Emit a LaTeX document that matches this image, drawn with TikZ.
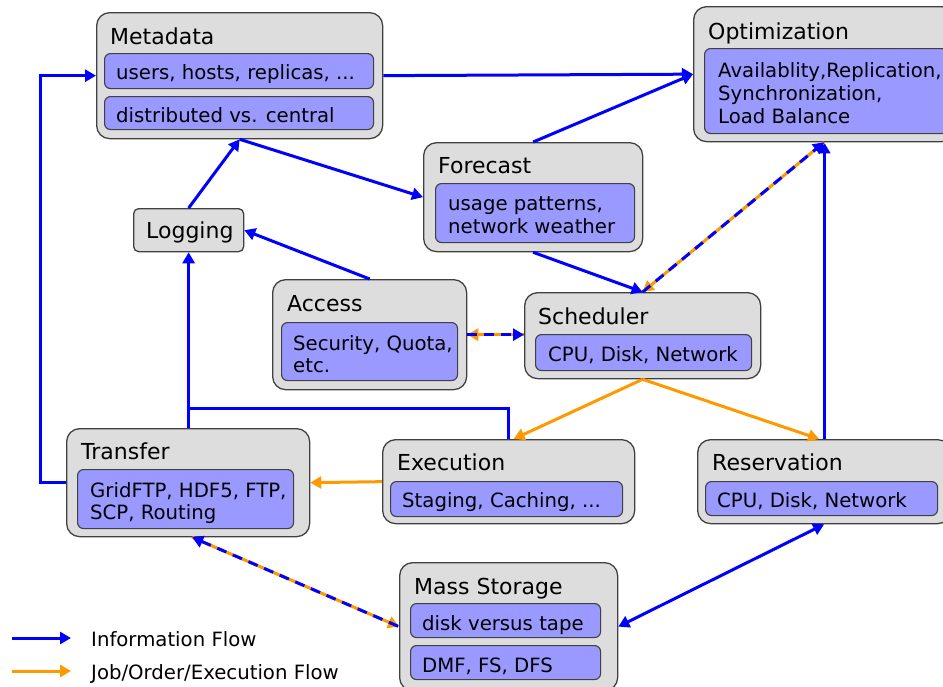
\documentclass[tikz,border=0pt]{standalone}
\usepackage{fontspec}
\setmainfont{DejaVu Sans}
\usetikzlibrary{arrows.meta}

\definecolor{boxgray}{HTML}{DDDDDD}
\definecolor{boxedge}{HTML}{404040}
\definecolor{slotfill}{HTML}{9999FF}
\definecolor{infoblue}{HTML}{0000FF}
\definecolor{joborange}{HTML}{FF9900}

\tikzset{
  outerbox/.style={draw=boxedge, fill=boxgray, line width=1.3pt, rounded corners=13pt,
                   anchor=north west, inner sep=0pt},
  smallbox/.style={outerbox, rounded corners=5pt},
  slotbox/.style={draw=boxedge, fill=slotfill, line width=1.1pt, rounded corners=6pt,
                  anchor=north west, inner sep=0pt},
  title/.style={anchor=base west, inner sep=0pt, font=\fontsize{22}{26}\selectfont},
  entry/.style={anchor=base west, inner sep=0pt, font=\fontsize{19.7}{23}\selectfont},
  info/.style={draw=infoblue, line width=3pt},
  job/.style={draw=joborange, line width=3pt},
  infodash/.style={info, dash pattern=on 10pt off 7pt},
}

\begin{document}
\begin{tikzpicture}[x=1pt, y=-1pt, >={Triangle[length=11pt,width=12pt]}]
\path[use as bounding box, clip] (0,0) rectangle (943,686);

% ---------- Metadata ----------
\node[outerbox, minimum width=286pt, minimum height=126pt] (meta) at (96,12) {};
\node[title] (meta-t) at (110,44) {Metadata};
\node[slotbox, minimum width=269pt, minimum height=35pt] (meta-s1) at (104,53) {};
\node[entry] (meta-l1) at (116,79) {users, hosts, replicas, ...};
\node[slotbox, minimum width=269pt, minimum height=33pt] (meta-s2) at (104,96) {};
\node[entry] (meta-l2) at (116,122) {distributed vs. central};

% ---------- Optimization ----------
\node[outerbox, minimum width=261pt, minimum height=135pt] (opt) at (693,6) {};
\node[title] (opt-t) at (708,39) {Optimization};
\node[slotbox, minimum width=243pt, minimum height=85pt] (opt-s) at (704,48) {};
\node[entry] (opt-l1) at (718,77) {Availablity,Replication,};
\node[entry] (opt-l2) at (718,100) {Synchronization,};
\node[entry] (opt-l3) at (718,123) {Load Balance};

% ---------- Forecast ----------
\node[outerbox, minimum width=219pt, minimum height=109pt] (fore) at (423,142) {};
\node[title] (fore-t) at (438,173) {Forecast};
\node[slotbox, minimum width=199pt, minimum height=59pt] (fore-s) at (435,183) {};
\node[entry] (fore-l1) at (448,210) {usage patterns,};
\node[entry] (fore-l2) at (448,233) {network weather};

% ---------- Logging ----------
\node[smallbox, minimum width=110pt, minimum height=43pt] (log) at (133,208) {};
\node[title] (log-t) at (146,238) {Logging};

% ---------- Access ----------
\node[outerbox, minimum width=194pt, minimum height=110pt] (acc) at (272,279) {};
\node[title] (acc-t) at (287,311) {Access};
\node[slotbox, minimum width=176pt, minimum height=58pt] (acc-s) at (281,322) {};
\node[entry] (acc-l1) at (293,350) {Security, Quota,};
\node[entry] (acc-l2) at (293,372) {etc.};

% ---------- Scheduler ----------
\node[outerbox, minimum width=236pt, minimum height=86pt] (sched) at (524,292) {};
\node[title] (sched-t) at (538,324) {Scheduler};
\node[slotbox, minimum width=216pt, minimum height=36pt] (sched-s) at (535,334) {};
\node[entry] (sched-l1) at (548,361) {CPU, Disk, Network};

% ---------- Transfer ----------
\node[outerbox, minimum width=243pt, minimum height=108pt] (trans) at (66,428) {};
\node[title] (trans-t) at (81,459) {Transfer};
\node[slotbox, minimum width=216pt, minimum height=59pt] (trans-s) at (77,469) {};
\node[entry] (trans-l1) at (90,497) {GridFTP, HDF5, FTP,};
\node[entry] (trans-l2) at (90,519) {SCP, Routing};

% ---------- Execution ----------
\node[outerbox, minimum width=252pt, minimum height=84pt] (exec) at (382,439) {};
\node[title] (exec-t) at (397,470) {Execution};
\node[slotbox, minimum width=232pt, minimum height=35pt] (exec-s) at (390,481) {};
\node[entry] (exec-l1) at (402,507) {Staging, Caching, ...};

% ---------- Reservation ----------
\node[outerbox, minimum width=253pt, minimum height=84pt] (res) at (697,439) {};
\node[title] (res-t) at (712,470) {Reservation};
\node[slotbox, minimum width=232pt, minimum height=34pt] (res-s) at (705,481) {};
\node[entry] (res-l1) at (717,507) {CPU, Disk, Network};

% ---------- Mass Storage ----------
\node[outerbox, minimum width=218pt, minimum height=128pt] (mass) at (399,562) {};
\node[title] (mass-t) at (414,594) {Mass Storage};
\node[slotbox, minimum width=190pt, minimum height=34pt] (mass-s1) at (410,603) {};
\node[entry] (mass-l1) at (422,630) {disk versus tape};
\node[slotbox, minimum width=190pt, minimum height=34pt] (mass-s2) at (410,645) {};
\node[entry] (mass-l2) at (422,672) {DMF, FS, DFS};

% ---------- information flow ----------
\draw[info,->] (trans.west) -- ++(-26,0) |- (meta.west);
\draw[info,->] (meta.east) -- (opt.west);
\draw[info,->] (fore.north) -- (opt.west);
\draw[info,->] (meta.south) -- (fore.west);
\draw[info,->] (log.north) -- (meta.south);
\draw[info,->] (acc.north) -- (log.east);
\draw[info,->] (fore.south) -- (sched.north);
\draw[info,->] (res.north) -- (opt.south);
\coordinate (junc) at (188,408);
\draw[info] (exec.north) |- (junc);
\draw[info,->] (trans.north -| log.south) -- (log.south);
\draw[info,<->] (mass.east) -- (res.south);

% ---------- job / order / execution flow ----------
\draw[job,->] (sched.south) -- ([xshift=5pt]exec.north);
\draw[job,->] (sched.south) -- ([xshift=-5pt]res.north);
\draw[job,->] (exec.west) -- (trans.east);

% ---------- combined flows (orange under blue dashes) ----------
\draw[job,<-] (sched.north) -- (opt.south);
\draw[infodash,->] (sched.north) -- (opt.south);
\draw[job,<-] (acc.east) -- (acc.east -| sched.west);
\draw[infodash,->] (acc.east) -- (acc.east -| sched.west);
\draw[job,->] ([xshift=4pt]trans.south) -- (mass.west);
\draw[infodash,<-] ([xshift=4pt]trans.south) -- (mass.west);

% ---------- legend ----------
\coordinate (lg1a) at (12,638);
\coordinate (lg1b) at (71,638);
\coordinate (lg2a) at (12,671);
\coordinate (lg2b) at (71,671);
\draw[info,->] (lg1a) -- (lg1b);
\draw[job,->] (lg2a) -- (lg2b);
\node[entry] (lg1-t) at (91,646) {Information Flow};
\node[entry] (lg2-t) at (91,679) {Job/Order/Execution Flow};
\end{tikzpicture}
\end{document}
